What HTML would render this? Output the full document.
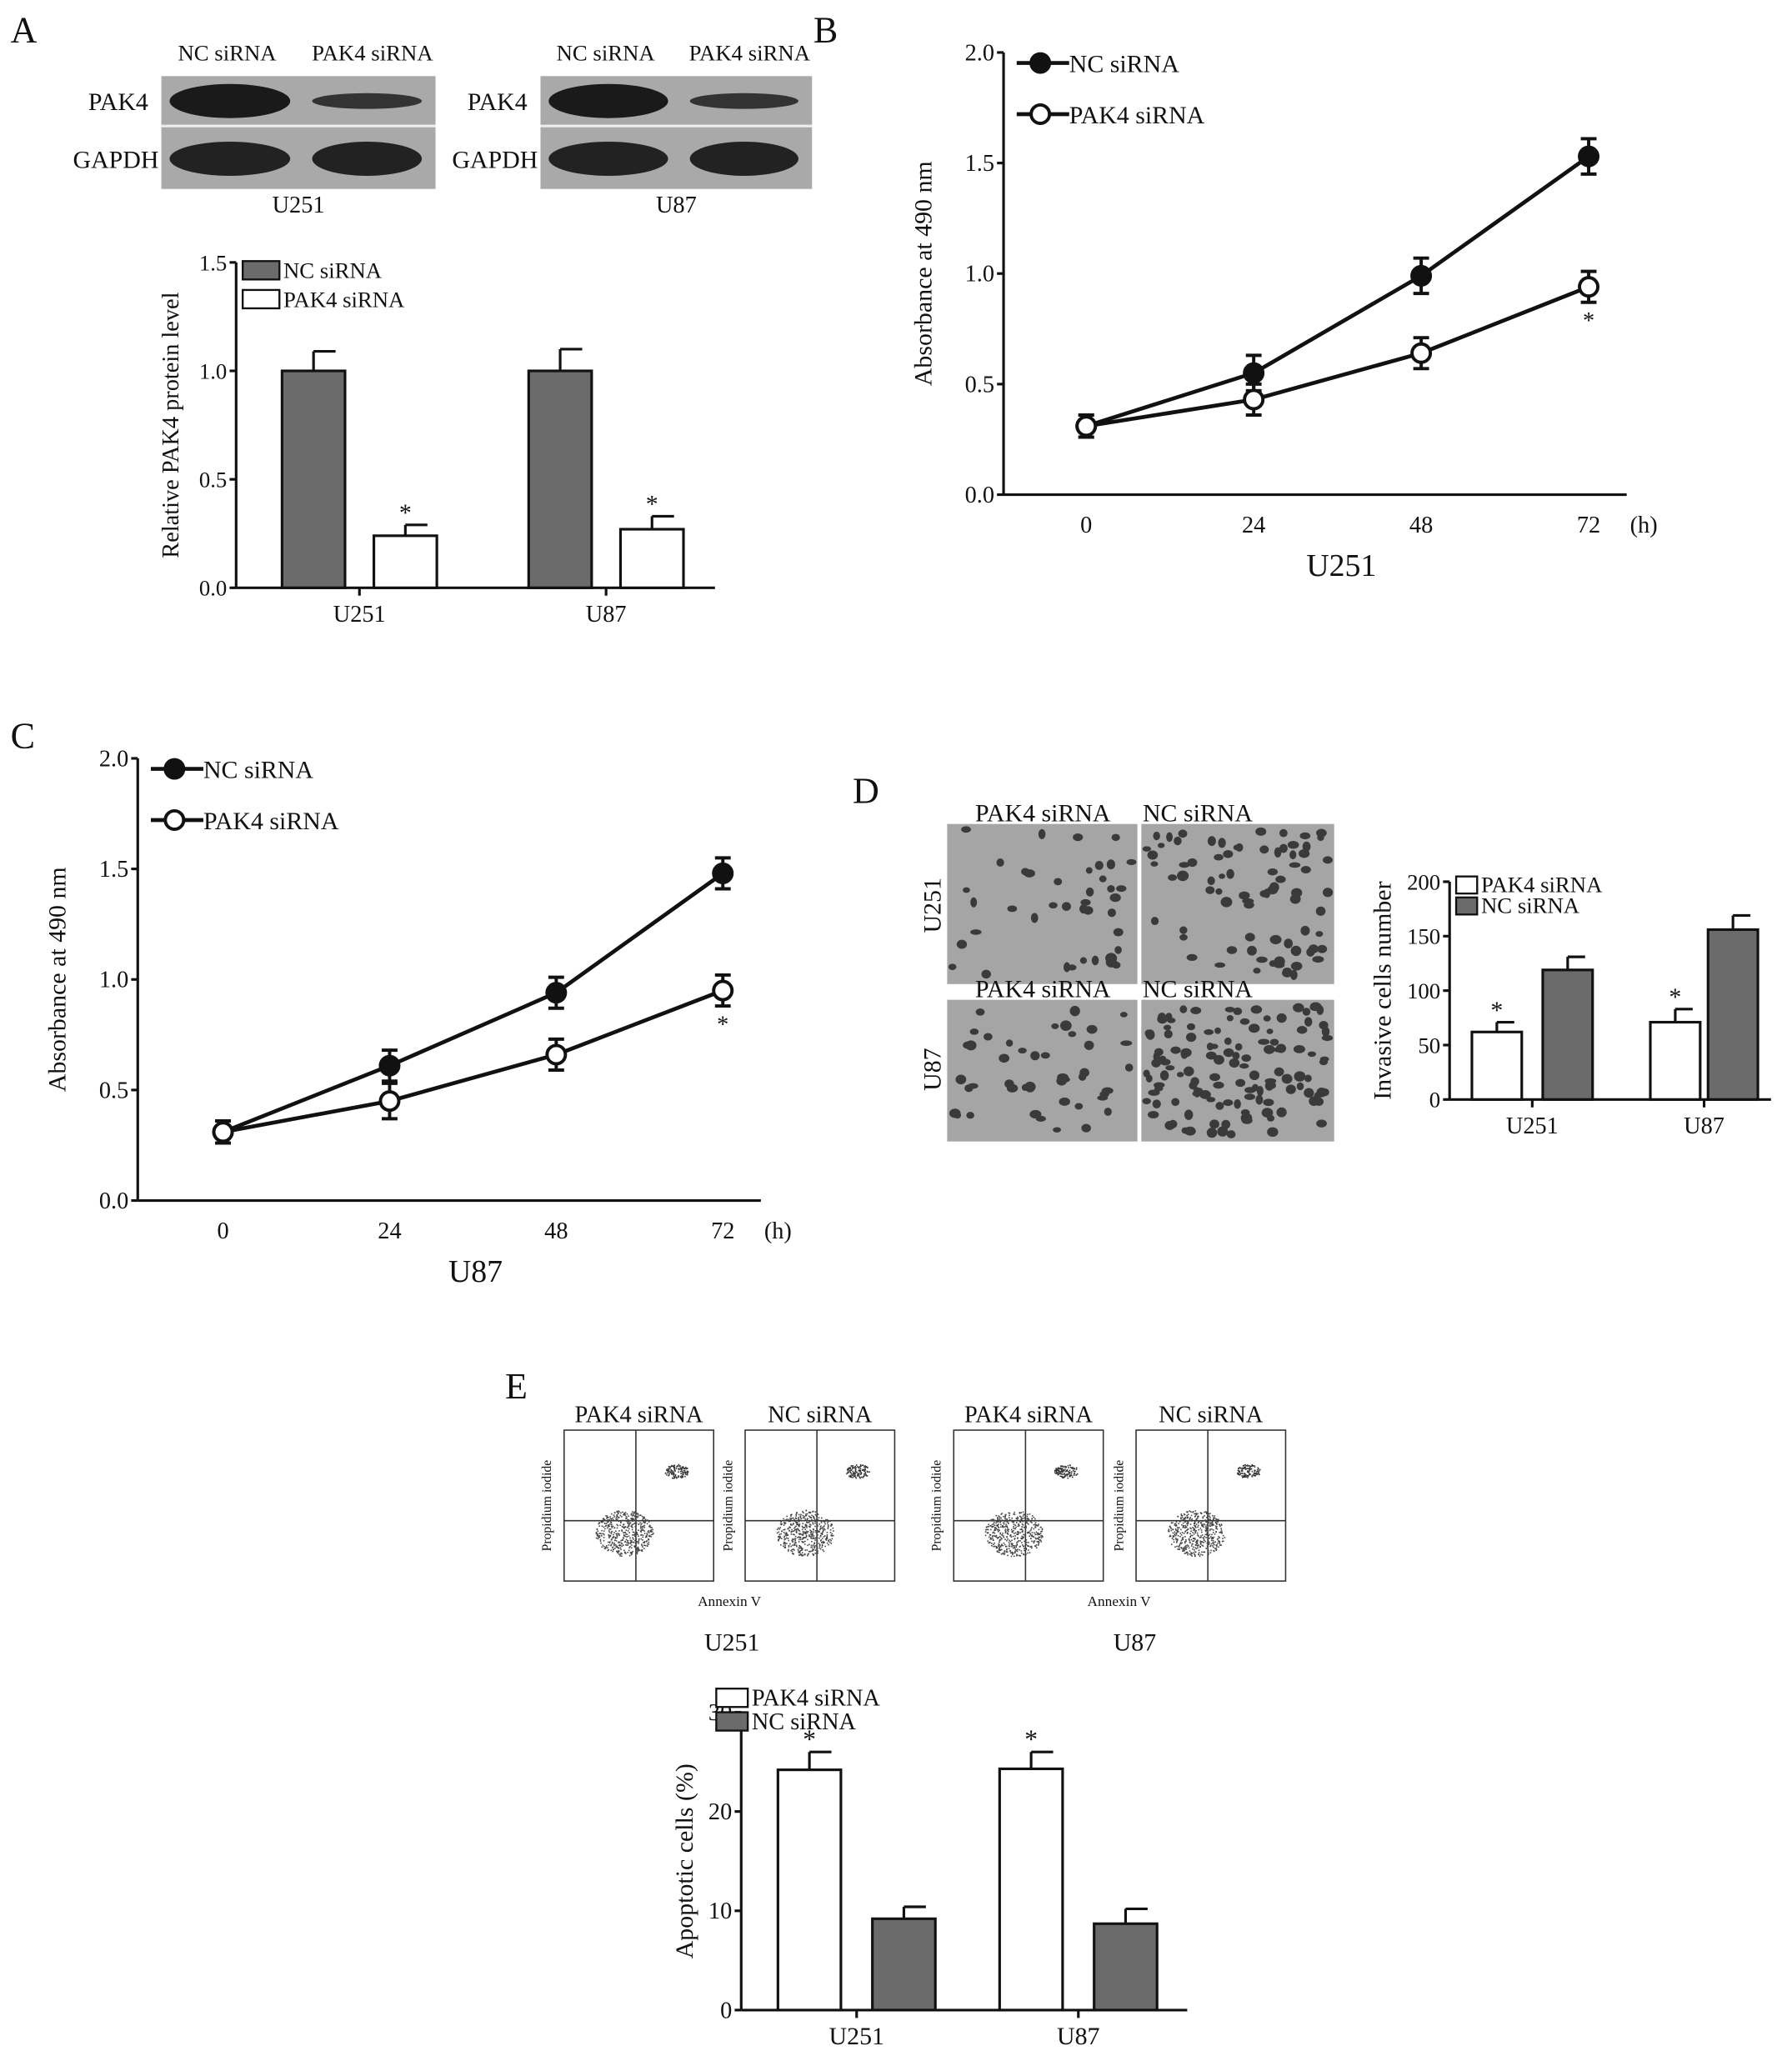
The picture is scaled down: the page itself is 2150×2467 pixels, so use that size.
<!DOCTYPE html>
<html><head><meta charset="utf-8"><style>
html,body{margin:0;padding:0;background:#fff}
svg{display:block}
text{font-family:"Liberation Serif",serif;fill:#111}
</style></head><body>
<svg id="fig" width="2150" height="2467" viewBox="0 0 1366 1567" preserveAspectRatio="none" xmlns="http://www.w3.org/2000/svg">
<g id="root"></g>
</svg>
<script>
// ---- Data ----
const aCats = ["U251","U87"];
const aNC = [1.0, 1.0];
const aNCerr = [0.09, 0.10];
const aPAK = [0.24, 0.27];
const aPAKerr = [0.05, 0.06];
const aTicks = [0.0,0.5,1.0,1.5];

const timeCats = [0,24,48,72];
const bNC = [0.31,0.55,0.99,1.53];
const bNCerr = [0.05,0.08,0.08,0.08];
const bPAK = [0.31,0.43,0.64,0.94];
const bPAKerr = [0.05,0.07,0.07,0.07];
const cNC = [0.31,0.61,0.94,1.48];
const cNCerr = [0.05,0.07,0.07,0.07];
const cPAK = [0.31,0.45,0.66,0.95];
const cPAKerr = [0.05,0.08,0.07,0.07];
const lineTicks = [0.0,0.5,1.0,1.5,2.0];

const dCats = ["U251","U87"];
const dPAK = [62,71];
const dPAKerr = [9,12];
const dNC = [119,156];
const dNCerr = [12,13];
const dTicks = [0,50,100,150,200];

const eCats = ["U251","U87"];
const ePAK = [24.2,24.3];
const ePAKerr = [1.8,1.7];
const eNC = [9.2,8.7];
const eNCerr = [1.2,1.5];
const eTicks = [0,10,20,30];

const NS="http://www.w3.org/2000/svg";
const root=document.getElementById('root');
function el(tag,attrs,parent,txt){const e=document.createElementNS(NS,tag);for(const k in attrs)e.setAttribute(k,attrs[k]);if(txt!==undefined)e.textContent=txt;(parent||root).appendChild(e);return e;}
function txt(x,y,s,size,parent,anchor,name,rot){const t=el('text',{x:x,y:y,'font-size':size,'text-anchor':anchor||'start'},parent,s);


if(rot)t.setAttribute('transform','rotate(-90 '+x+' '+y+')');return t;}
let seed=7;function rnd(){seed=(seed*16807)%2147483647;return seed/2147483647;}

// panel letters
[["A",8,32],["B",620,32],["C",8,570],["D",650,612],["E",385,1066]].forEach(p=>txt(p[1],p[2],p[0],28,root,'start','panel-letter-'+p[0].toLowerCase()));

// ---- Western blots ----
function blot(x,w,label,nameP){
  const g=el('g',{});
  
  
  el('rect',{x:x,y:58,width:w,height:86,fill:'#a9a9a9'},g);
  el('line',{x1:x,y1:96,x2:x+w,y2:96,stroke:'#eee','stroke-width':2},g);
  el('ellipse',{cx:x+w*0.25,cy:77,rx:w*0.22,ry:13,fill:'#1a1a1a'},g);
  el('ellipse',{cx:x+w*0.75,cy:77,rx:w*0.2,ry:6,fill:'#333'},g);
  el('ellipse',{cx:x+w*0.25,cy:121,rx:w*0.22,ry:13,fill:'#222'},g);
  el('ellipse',{cx:x+w*0.75,cy:121,rx:w*0.2,ry:13,fill:'#222'},g);
  txt(x+w*0.24,46,'NC siRNA',17,g,'middle');
  txt(x+w*0.77,46,'PAK4 siRNA',17,g,'middle');
  txt(x-10,84,'PAK4',19,g,'end');
  txt(x-2,128,'GAPDH',19,g,'end');
  txt(x+w/2,162,label,18,g,'middle');
}
blot(123,209,'U251','u251');
blot(412,207,'U87','u87');

// ---- Bar chart helper ----
function barChart(o){
  const g=el('g',{});
  
  
  const yS=v=>o.yb-(v-o.min)/(o.max-o.min)*(o.yb-o.yt);
  el('line',{x1:o.x0,y1:o.yt,x2:o.x0,y2:o.yb,stroke:'#111','stroke-width':2},g);
  el('line',{x1:o.x0,y1:o.yb,x2:o.x1,y2:o.yb,stroke:'#111','stroke-width':2},g);
  o.ticks.forEach(t=>{const y=yS(t);el('line',{x1:o.x0-5,y1:y,x2:o.x0,y2:y,stroke:'#111','stroke-width':2},g);
    txt(o.x0-7,y+6,o.fmt(t),o.fs,g,'end','y-tick-label');});
  o.cats.forEach((c,i)=>{
    o.series.forEach((s,j)=>{
      const bx=o.bx[i][j],v=s.vals[i],e=s.err[i];
      const r=el('rect',{x:bx,y:yS(v),width:o.bw,height:o.yb-yS(v),fill:s.fill,stroke:'#111','stroke-width':2},g);
      
      
      const cx=bx+o.bw/2;
      el('line',{x1:cx,y1:yS(v),x2:cx,y2:yS(v+e),stroke:'#111','stroke-width':2},g);
      el('line',{x1:cx,y1:yS(v+e),x2:cx+o.bw*0.35,y2:yS(v+e),stroke:'#111','stroke-width':2},g);
      if(s.star)txt(cx,yS(v+e)-3,'*',o.fs+2,g,'middle','significance-asterisk');
    });
    const mx=(o.bx[i][0]+o.bx[i][o.series.length-1]+o.bw)/2;
    el('line',{x1:mx,y1:o.yb,x2:mx,y2:o.yb+6,stroke:'#111','stroke-width':2},g);
    txt(mx,o.yb+26,c,o.fs+1,g,'middle','x-category-label');
  });
  txt(o.titleX,(o.yt+o.yb)/2,o.title,o.tfs,g,'middle','y-axis-title',true);
  o.series.forEach((s,j)=>{
    const lr=el('rect',{x:o.lx,y:o.ly+j*o.lgap,width:o.lw,height:o.lh,fill:s.fill,stroke:'#111','stroke-width':1.5},g);
    
    
    txt(o.lx+o.lw+3,o.ly+j*o.lgap+o.lh-1,s.label,o.lfs,g,'start','legend-entry');
  });
}
const GRAY='#6b6b6b';
barChart({name:'panel-a-bar-chart',x0:180,x1:545,yt:200,yb:448,min:0,max:1.5,ticks:aTicks,fmt:t=>t.toFixed(1),fs:17,
 cats:aCats,bw:48,bx:[[215,285],[403,473]],
 series:[{key:'nc',label:'NC siRNA',vals:aNC,err:aNCerr,fill:GRAY},{key:'pak4',label:'PAK4 siRNA',vals:aPAK,err:aPAKerr,fill:'#fff',star:true}],
 title:'Relative PAK4 protein level',titleX:136,tfs:18,lx:185,ly:199,lw:28,lh:14,lgap:22,lfs:17});
barChart({name:'panel-d-bar-chart',x0:1105,x1:1350,yt:672,yb:838,min:0,max:200,ticks:dTicks,fmt:t=>t,fs:17,
 cats:dCats,bw:38,bx:[[1122,1176],[1258,1302]],
 series:[{key:'pak4',label:'PAK4 siRNA',vals:dPAK,err:dPAKerr,fill:'#fff',star:true},{key:'nc',label:'NC siRNA',vals:dNC,err:dNCerr,fill:GRAY}],
 title:'Invasive cells number',titleX:1060,tfs:19,lx:1110,ly:668,lw:16,lh:13,lgap:16,lfs:17});
barChart({name:'panel-e-bar-chart',x0:565,x1:905,yt:1305,yb:1532,min:0,max:30,ticks:eTicks,fmt:t=>t,fs:18,
 cats:eCats,bw:48,bx:[[593,665],[762,834]],
 series:[{key:'pak4',label:'PAK4 siRNA',vals:ePAK,err:ePAKerr,fill:'#fff',star:true},{key:'nc',label:'NC siRNA',vals:eNC,err:eNCerr,fill:GRAY}],
 title:'Apoptotic cells (%)',titleX:528,tfs:19,lx:546,ly:1287,lw:24,lh:14,lgap:18,lfs:18});

// ---- Line chart helper ----
function lineChart(o){
  const g=el('g',{});
  
  
  const yS=v=>o.yb-v/2.0*(o.yb-o.yt);
  const xS=i=>o.xFirst+i*(o.xLast-o.xFirst)/(timeCats.length-1);
  el('line',{x1:o.x0,y1:o.yt,x2:o.x0,y2:o.yb,stroke:'#111','stroke-width':2},g);
  el('line',{x1:o.x0,y1:o.yb,x2:o.x1,y2:o.yb,stroke:'#111','stroke-width':2},g);
  lineTicks.forEach(t=>{const y=yS(t);el('line',{x1:o.x0-5,y1:y,x2:o.x0,y2:y,stroke:'#111','stroke-width':2},g);txt(o.x0-7,y+6,t.toFixed(1),18,g,'end','y-tick-label');});
  timeCats.forEach((c,i)=>txt(xS(i),o.yb+29,String(c),18,g,'middle','x-tick-label'));
  txt(o.xLast+42,o.yb+29,'(h)',18,g,'middle','x-axis-unit');
  txt((o.x0+o.x1)/2+20,o.yb+62,o.cell,24,g,'middle','x-axis-title');
  txt(o.x0-55,(o.yt+o.yb)/2,'Absorbance at 490 nm',19,g,'middle','y-axis-title',true);
  [[o.nc,o.ncErr,true,'nc'],[o.pak,o.pakErr,false,'pak4']].forEach(([vals,err,filled,key])=>{
    const pts=vals.map((v,i)=>xS(i)+','+yS(v)).join(' ');
    const pl=el('polyline',{points:pts,fill:'none',stroke:'#111','stroke-width':3},g);
    
    
    vals.forEach((v,i)=>{const x=xS(i);
      el('line',{x1:x,y1:yS(v-err[i]),x2:x,y2:yS(v+err[i]),stroke:'#111','stroke-width':2.5},g);
      el('line',{x1:x-6,y1:yS(v+err[i]),x2:x+6,y2:yS(v+err[i]),stroke:'#111','stroke-width':2.5},g);
      el('line',{x1:x-6,y1:yS(v-err[i]),x2:x+6,y2:yS(v-err[i]),stroke:'#111','stroke-width':2.5},g);
      const c=el('circle',{cx:x,cy:yS(v),r:filled?7:7,fill:filled?'#111':'#fff',stroke:'#111','stroke-width':2.5},g);
      
      
    });
  });
  const last=o.pak.length-1;
  txt(xS(last),yS(o.pak[last]-o.pakErr[last])+20,'*',18,g,'middle','significance-asterisk');
  [['NC siRNA',true],['PAK4 siRNA',false]].forEach(([l,f],j)=>{
    const y=o.ly+j*39;
    el('line',{x1:o.lx,y1:y,x2:o.lx+40,y2:y,stroke:'#111','stroke-width':3},g);
    el('circle',{cx:o.lx+18,cy:y,r:7,fill:f?'#111':'#fff',stroke:'#111','stroke-width':2.5},g);
    txt(o.lx+40,y+7,l,19,g,'start','legend-entry');
  });
}
lineChart({name:'panel-b-line-chart',x0:765,x1:1240,yt:40,yb:377,xFirst:828,xLast:1211,nc:bNC,ncErr:bNCerr,pak:bPAK,pakErr:bPAKerr,cell:'U251',lx:775,ly:48});
lineChart({name:'panel-c-line-chart',x0:105,x1:580,yt:578,yb:915,xFirst:170,xLast:551,nc:cNC,ncErr:cNCerr,pak:cPAK,pakErr:cPAKerr,cell:'U87',lx:115,ly:586});

// ---- Micrographs (panel D) ----
function micro(x,y,w,h,n,name){
  const g=el('g',{});
  
  
  el('rect',{x:x,y:y,width:w,height:h,fill:'#a5a5a5'},g);
  for(let i=0;i<n;i++)el('ellipse',{cx:x+4+rnd()*(w-8),cy:y+4+rnd()*(h-8),rx:2.5+rnd()*2,ry:2+rnd()*2,fill:'#3a3a3a'},g);
}
micro(722,628,145,122,40,'micrograph-u251-pak4');
micro(870,628,147,122,80,'micrograph-u251-nc');
micro(722,762,145,108,45,'micrograph-u87-pak4');
micro(870,762,147,108,130,'micrograph-u87-nc');
txt(795,626,'PAK4 siRNA',19,root,'middle','column-label');
txt(913,626,'NC siRNA',19,root,'middle','column-label');
txt(795,760,'PAK4 siRNA',19,root,'middle','column-label');
txt(913,760,'NC siRNA',19,root,'middle','column-label');
txt(717,690,'U251',19,root,'middle','row-label',true);
txt(717,815,'U87',19,root,'middle','row-label',true);

// ---- Flow cytometry plots (panel E) ----
function flow(x,name,title,upper){
  const g=el('g',{});
  
  
  const y=1090,w=114,h=115;
  el('rect',{x:x,y:y,width:w,height:h,fill:'#fff',stroke:'#333','stroke-width':1},g);
  el('line',{x1:x+w*0.48,y1:y,x2:x+w*0.48,y2:y+h,stroke:'#333','stroke-width':1},g);
  el('line',{x1:x,y1:y+h*0.6,x2:x+w,y2:y+h*0.6,stroke:'#333','stroke-width':1},g);
  for(let i=0;i<500;i++){const a=rnd()*6.28,r=Math.sqrt(rnd())*22;el('rect',{x:x+w*0.4+Math.cos(a)*r,y:y+h*0.68+Math.sin(a)*r*0.8,width:1,height:1,fill:'#444'},g);}
  if(upper)for(let i=0;i<120;i++){const a=rnd()*6.28,r=Math.sqrt(rnd())*9;el('rect',{x:x+w*0.75+Math.cos(a)*r,y:y+h*0.27+Math.sin(a)*r*0.6,width:1,height:1,fill:'#333'},g);}
  txt(x+w/2,1084,title,18,g,'middle','plot-title');
  txt(x-10,y+h/2,'Propidium iodide',10,g,'middle','y-axis-title',true);
}
flow(430,'flow-u251-pak4','PAK4 siRNA',true);
flow(568,'flow-u251-nc','NC siRNA',true);
flow(727,'flow-u87-pak4','PAK4 siRNA',true);
flow(866,'flow-u87-nc','NC siRNA',true);
txt(556,1224,'Annexin V',11,root,'middle','x-axis-title');
txt(853,1224,'Annexin V',11,root,'middle','x-axis-title');
txt(558,1258,'U251',19,root,'middle','cell-line-label');
txt(865,1258,'U87',19,root,'middle','cell-line-label');
</script>
</body></html>
